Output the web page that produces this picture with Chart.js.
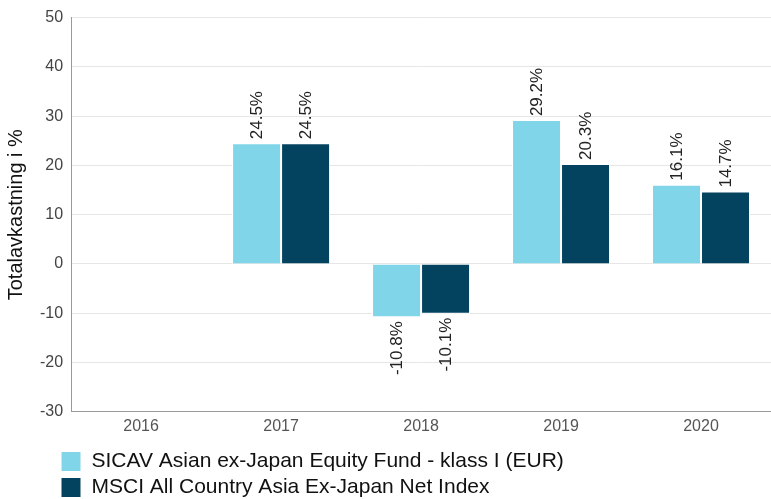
<!DOCTYPE html>
<html>
<head>
<meta charset="utf-8">
<script src="https://cdn.jsdelivr.net/npm/chart.js@4"></script>
<style>
  html, body { margin: 0; padding: 0; background: #fff; }
  #wrap { width: 771px; height: 499px; }
</style>
</head>
<body>
<div id="wrap"><canvas id="chart"></canvas></div>
<script>
const years = ['2016', '2017', '2018', '2019', '2020']
const fundName = 'SICAV Asian ex-Japan Equity Fund - klass I (EUR)'
const indexName = 'MSCI All Country Asia Ex-Japan Net Index'
const fundValues = [null, 24.5, -10.8, 29.2, 16.1]
const indexValues = [null, 24.5, -10.1, 20.3, 14.7]
const yTicks = [-30, -20, -10, 0, 10, 20, 30, 40, 50]

const FONT = '"Liberation Sans", Arial, sans-serif'

// rotated value labels on each bar
const barLabels = {
    id: 'barLabels',
    afterDatasetsDraw(chart) {
        const ctx = chart.ctx
        ctx.save()
        ctx.font = '17px ' + FONT
        ctx.fillStyle = '#222'
        ctx.textBaseline = 'middle'
        chart.data.datasets.forEach((ds, i) => {
            chart.getDatasetMeta(i).data.forEach((bar, j) => {
                const v = ds.data[j]
                if (v == null) return
                const txt = v.toFixed(1) + '%'
                ctx.save()
                ctx.translate(bar.x, bar.y)
                ctx.rotate(-Math.PI / 2)
                if (v >= 0) { ctx.textAlign = 'left'; ctx.fillText(txt, 4, 1) }
                else { ctx.textAlign = 'right'; ctx.fillText(txt, -4, 1) }
                ctx.restore()
            })
        })
        ctx.restore()
    }
}

// nudge the legend so it lines up under the plot
const legendShift = {
    id: 'legendShift',
    afterLayout(chart) {
        const lg = chart.legend
        if (!lg) return
        lg.left = 56
        lg.top += 9
        lg.bottom += 9
    }
}

new Chart(document.getElementById('chart'), {
    type: 'bar',
    data: {
        labels: years,
        datasets: [
            { label: fundName, data: fundValues, backgroundColor: '#80d6e8', borderColor: '#ffffff', borderWidth: 1 },
            { label: indexName, data: indexValues, backgroundColor: '#03435f', borderColor: '#ffffff', borderWidth: 1 },
        ]
    },
    options: {
        responsive: true,
        maintainAspectRatio: false,
        animation: false,
        layout: { padding: { top: 12, right: 0, left: 0, bottom: 0 } },
        datasets: { bar: { categoryPercentage: 0.7, barPercentage: 1.0 } },
        plugins: {
            tooltip: { enabled: false },
            legend: {
                position: 'bottom',
                align: 'start',
                labels: {
                    boxWidth: 20,
                    boxHeight: 20,
                    padding: 5,
                    color: '#111',
                    font: { family: FONT, size: 21 }
                }
            }
        },
        scales: {
            x: {
                grid: { display: false, drawTicks: false },
                border: { color: '#999' },
                ticks: { color: '#555', padding: 5, font: { family: FONT, size: 16 } },
                afterFit: axis => { axis.height -= 4 }
            },
            y: {
                min: -30,
                max: 50,
                afterBuildTicks: axis => { axis.ticks = yTicks.map(v => ({ value: v })) },
                grid: { color: '#e6e6e6', drawTicks: false },
                border: { color: '#999' },
                ticks: { color: '#444', padding: 8, font: { family: FONT, size: 16 } },
                title: { display: true, text: 'Totalavkastning i %', color: '#111', font: { family: FONT, size: 20 }, padding: 4 }
            }
        }
    },
    plugins: [barLabels, legendShift]
})
</script>
</body>
</html>
